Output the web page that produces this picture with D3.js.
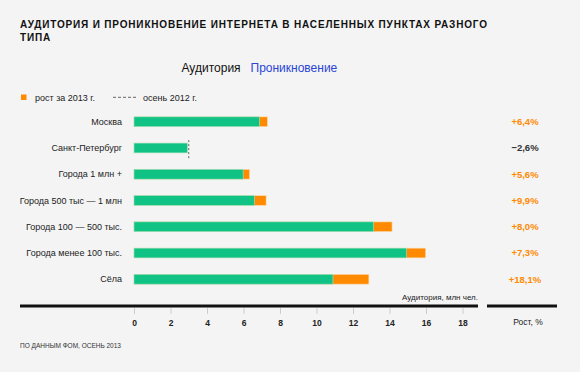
<!DOCTYPE html>
<html><head><meta charset="utf-8">
<script src="https://cdn.jsdelivr.net/npm/d3@7"></script>
<style>
html,body{margin:0;padding:0;background:#f4f4f4;}
svg{display:block;font-family:"Liberation Sans",Arial,Helvetica,sans-serif;}
</style></head><body>
<svg id="c" width="580" height="372"></svg>
<script>
const categories = ["Москва","Санкт-Петербург","Города 1 млн +","Города 500 тыс — 1 млн","Города 100 — 500 тыс.","Города менее 100 тыс.","Сёла"];
const audience2012 = [6.87, 3.0, 5.98, 6.59, 13.12, 14.93, 10.9];
const audience2013 = [7.31, 2.92, 6.33, 7.24, 14.14, 15.98, 12.87];
const growthLabels = ["+6,4%","\u22122,6%","+5,6%","+9,9%","+8,0%","+7,3%","+18,1%"];
const xTicks = [0,2,4,6,8,10,12,14,16,18];

const svg = d3.select("#c");
const green = "#10c283", orange = "#ff8a00";

// title, letter-spaced to the reference width
function spaced(t, yy, target){
  const el = svg.append("text").attr("x",20).attr("y",yy).attr("font-size",10).attr("font-weight","bold")
    .attr("fill","#111").text(t);
  return el;
}
const t1 = spaced("АУДИТОРИЯ И ПРОНИКНОВЕНИЕ ИНТЕРНЕТА В НАСЕЛЕННЫХ ПУНКТАХ РАЗНОГО", 27.5);
const nat = t1.node().getComputedTextLength();
const n = t1.text().length;
const ls = (467 - nat) / (n - 1);
t1.attr("letter-spacing", ls);
spaced("ТИПА", 40.5).attr("letter-spacing", ls);

// tabs
svg.append("text").attr("x",181.5).attr("y",71.5).attr("font-size",12).attr("fill","#111").text("Аудитория");
svg.append("text").attr("x",250.5).attr("y",71.5).attr("font-size",12).attr("fill","#2a45d6").text("Проникновение");

// legend
svg.append("rect").attr("x",21).attr("y",94.5).attr("width",5.5).attr("height",5.5).attr("fill",orange);
svg.append("text").attr("x",35).attr("y",100.5).attr("font-size",9).attr("fill","#222").text("рост за 2013 г.");
svg.append("line").attr("x1",113).attr("x2",137.5).attr("y1",97.3).attr("y2",97.3)
  .attr("stroke","#666").attr("stroke-width",1).attr("stroke-dasharray","3,2");
svg.append("text").attr("x",143).attr("y",100.5).attr("font-size",9).attr("fill","#222").text("осень 2012 г.");

const x = d3.scaleLinear().domain([0,18]).range([134,462.5]);
const y = d3.scaleBand().domain(categories).range([109,292]).paddingInner(0.63).paddingOuter(0.3);

const g = svg.append("g");
categories.forEach((c,i)=>{
  const b = y(c), h = y.bandwidth();
  const lo = Math.min(audience2012[i], audience2013[i]);
  g.append("rect").attr("x",x(0)).attr("y",b).attr("width",x(audience2013[i])-x(0)).attr("height",h)
    .attr("fill",audience2013[i]>=audience2012[i]?orange:green).attr("stroke","#ffd9ad").attr("stroke-width",0.6);
  g.append("rect").attr("x",x(0)).attr("y",b).attr("width",x(lo)-x(0)).attr("height",h)
    .attr("fill",green).attr("stroke","#9fe6c8").attr("stroke-width",0.6);
  if(audience2013[i] < audience2012[i]){
    g.append("line").attr("x1",x(audience2012[i])).attr("x2",x(audience2012[i]))
      .attr("y1",b-3).attr("y2",b+h+6).attr("stroke","#666").attr("stroke-dasharray","2,2");
  }
  g.append("text").attr("x",122).attr("y",b+h/2).attr("dy","0.35em").attr("text-anchor","end")
    .attr("font-size",9).attr("fill","#222").text(c);
  g.append("text").attr("x",525).attr("y",b+h/2).attr("dy","0.35em").attr("text-anchor","middle")
    .attr("font-size",9.5).attr("font-weight","bold")
    .attr("fill",growthLabels[i].startsWith("+")?orange:"#333").text(growthLabels[i]);
});

// axis
svg.append("text").attr("x",478).attr("y",300).attr("text-anchor","end").attr("font-size",8)
  .attr("fill","#222").text("Аудитория, млн чел.");
svg.append("line").attr("x1",20).attr("x2",478).attr("y1",306).attr("y2",306).attr("stroke","#111").attr("stroke-width",3);
svg.append("line").attr("x1",487).attr("x2",557).attr("y1",306).attr("y2",306).attr("stroke","#111").attr("stroke-width",3);
const ax = svg.append("g").attr("transform","translate(0,308)")
  .call(d3.axisBottom(x).tickValues(xTicks).tickSize(6).tickPadding(6).tickFormat(d3.format("d")));
ax.select(".domain").remove();
ax.selectAll(".tick line").attr("stroke","#ccc");
ax.selectAll(".tick text").attr("font-size",8.5).attr("font-weight","bold").attr("fill","#222")
  .attr("font-family","'Liberation Sans Narrow','Liberation Sans',Arial,sans-serif");
svg.append("text").attr("x",528).attr("y",325).attr("text-anchor","middle").attr("font-size",8.5)
  .attr("fill","#222").text("Рост, %");

svg.append("text").attr("x",20).attr("y",348).attr("font-size",6.5).attr("fill","#333").text("ПО ДАННЫМ ФОМ, ОСЕНЬ 2013");
</script></body></html>
